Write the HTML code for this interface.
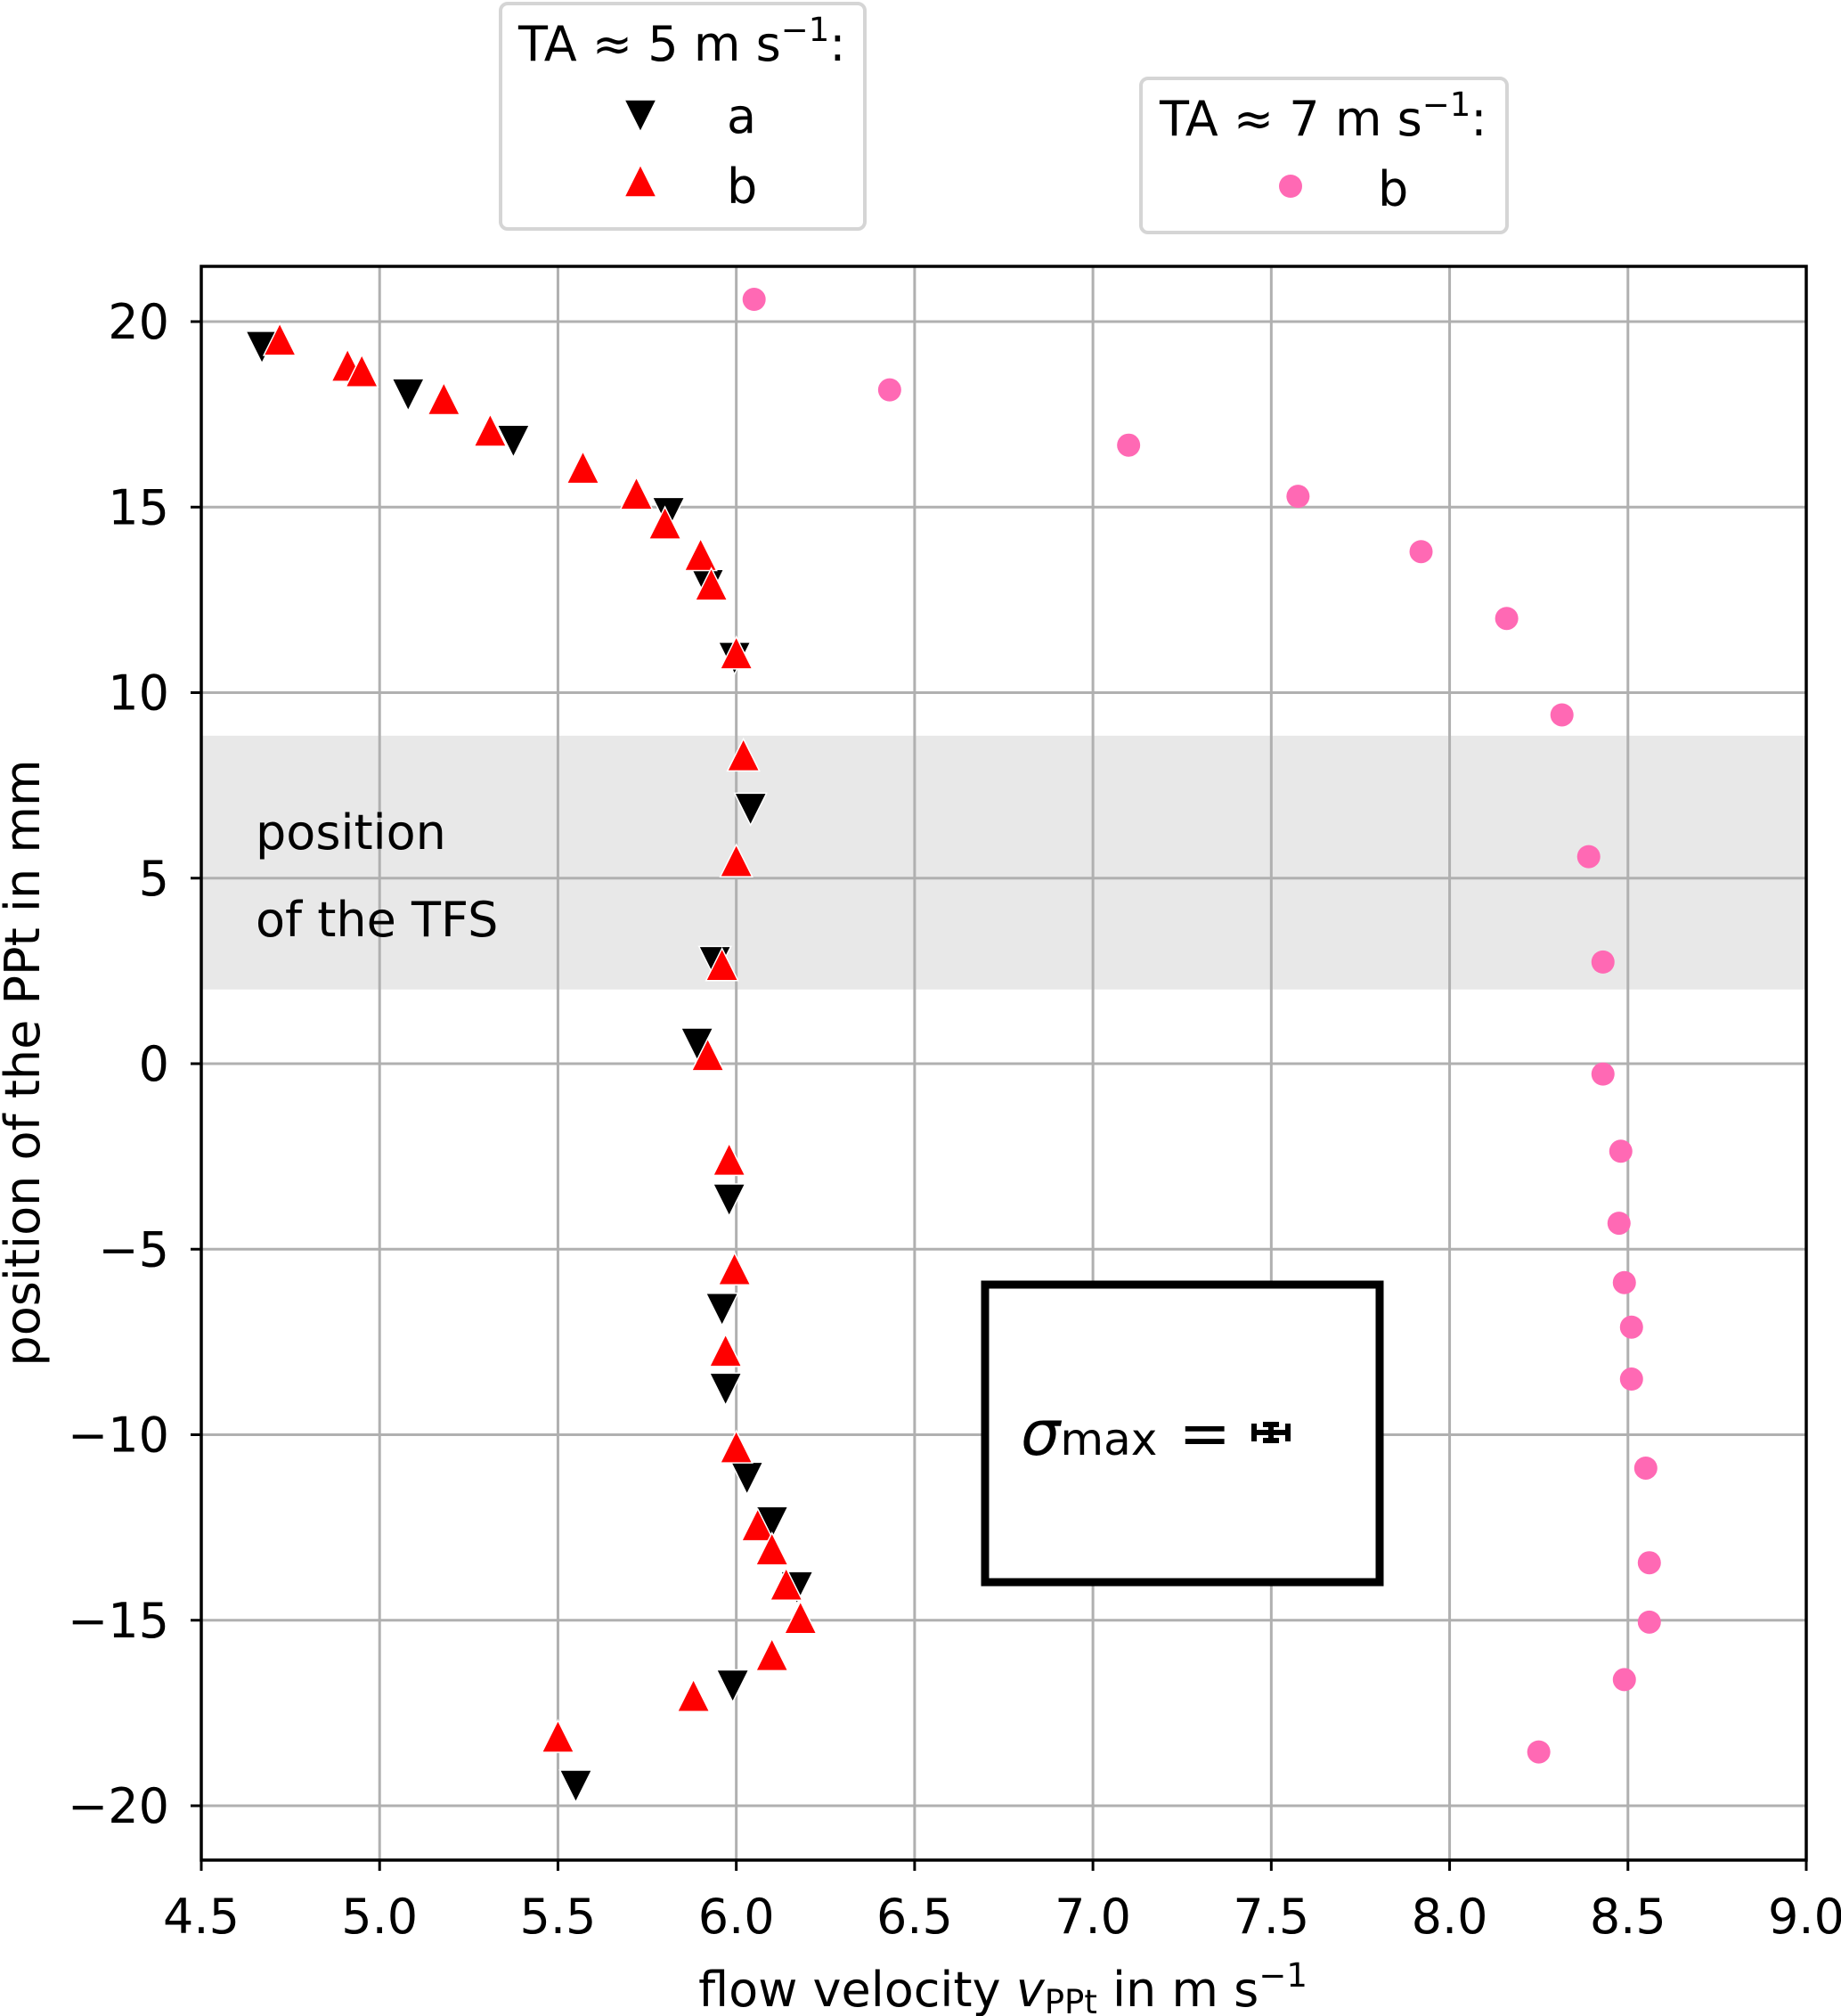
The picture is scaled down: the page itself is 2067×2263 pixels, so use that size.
<!DOCTYPE html>
<html><head><meta charset="utf-8"><style>
html,body{margin:0;padding:0;background:#fff}
svg{display:block}
text{font-family:"DejaVu Sans","Liberation Sans",sans-serif;fill:#000}
</style></head><body>
<svg id="chart" width="2067" height="2263" viewBox="0 0 2067 2263" xmlns="http://www.w3.org/2000/svg">
<g id="plot"></g>
</svg>
<script>
const xTicks=[4.5,5.0,5.5,6.0,6.5,7.0,7.5,8.0,8.5,9.0];
const yTicks=[20,15,10,5,0,-5,-10,-15,-20];
const aX=[4.67,5.08,5.375,5.81,5.92,5.995,6.04,5.94,5.89,5.98,5.96,5.97,6.03,6.10,6.17,5.99,5.55];
const aY=[19.38,18.1,16.85,14.9,12.96,11.0,6.93,2.8,0.6,-3.6,-6.55,-8.7,-11.1,-12.3,-14.05,-16.7,-19.4];
const bX=[4.72,4.91,4.95,5.18,5.31,5.57,5.72,5.80,5.90,5.93,6.0,6.02,6.0,5.96,5.92,5.98,5.995,5.97,6.0,6.06,6.10,6.14,6.18,6.10,5.88,5.50];
const bY=[19.45,18.75,18.6,17.85,17.0,16.0,15.3,14.5,13.65,12.85,11.0,8.25,5.4,2.6,0.17,-2.65,-5.6,-7.8,-10.4,-12.5,-13.15,-14.1,-15.0,-16.0,-17.1,-18.2];
const cX=[6.05,6.43,7.10,7.575,7.92,8.16,8.315,8.39,8.43,8.43,8.48,8.475,8.49,8.51,8.51,8.55,8.56,8.56,8.49,8.25];
const cY=[20.6,18.16,16.67,15.29,13.8,12.0,9.4,5.58,2.74,-0.28,-2.36,-4.3,-5.9,-7.1,-8.5,-10.9,-13.45,-15.05,-16.6,-18.55];
const band=[2.0,8.84];

const L=226,R=2028,T=299,B=2088;
const FS=54;
const sx=v=>L+(v-4.5)/4.5*(R-L);
const sy=v=>361+(20-v)/40*(2027-361);
const NS="http://www.w3.org/2000/svg";
const g=document.getElementById('plot');
function el(tag,attrs,parent){const e=document.createElementNS(NS,tag);for(const k in attrs)e.setAttribute(k,attrs[k]);(parent||g).appendChild(e);return e;}

const bandR=el('rect',{x:L,y:sy(band[1]),width:R-L,height:sy(band[0])-sy(band[1]),fill:'#e8e8e8'});



xTicks.forEach(v=>{
  const x=sx(v);
  const gl=el('line',{x1:x,x2:x,y1:T,y2:B,stroke:'#b0b0b0','stroke-width':3});
  
  
  el('line',{x1:x,x2:x,y1:B,y2:B+12,stroke:'#000','stroke-width':3});
  const t=el('text',{x:x,y:2170,'text-anchor':'middle','font-size':FS});
  t.textContent=v.toFixed(1);
  
  
});
yTicks.forEach(v=>{
  const y=sy(v);
  const gl=el('line',{x1:L,x2:R,y1:y,y2:y,stroke:'#b0b0b0','stroke-width':3});
  
  
  el('line',{x1:L-12,x2:L,y1:y,y2:y,stroke:'#000','stroke-width':3});
  const t=el('text',{x:190,y:y+19,'text-anchor':'end','font-size':FS});
  t.textContent=v<0?'\u2212'+(-v):String(v);
  
  
});

const p1=el('text',{x:287,y:953,'font-size':FS});p1.textContent='position';


const p2=el('text',{x:287,y:1051,'font-size':FS});p2.textContent='of the TFS';



const sb=el('rect',{x:1106,y:1442,width:443,height:334,fill:'#fff',stroke:'#000','stroke-width':9});


const st=el('text',{x:1146,y:1633,'font-size':70});
st.innerHTML='<tspan font-style="italic">σ</tspan><tspan font-size="50">max</tspan><tspan dx="24">=</tspan>';


const eb=el('path',{d:'M1406 1608H1448M1408 1598V1618M1446 1598V1618M1427 1599V1617M1418 1599H1436M1418 1617H1436',stroke:'#000','stroke-width':6,fill:'none'});



function down(x,y,c){return el('path',{d:`M${x-18} ${y-15}L${x+18} ${y-15}L${x} ${y+21}Z`,fill:c,stroke:'#fff','stroke-width':1.5});}
function up(x,y,c){return el('path',{d:`M${x-18} ${y+15}L${x+18} ${y+15}L${x} ${y-21}Z`,fill:c,stroke:'#fff','stroke-width':1.5});}
cX.forEach((v,i)=>{
  const c=el('ellipse',{cx:sx(v),cy:sy(cY[i]),rx:13,ry:13,fill:'#ff69b4'});
  
  
});
aX.forEach((v,i)=>{
  const m=down(sx(v),sy(aY[i]),'#000');
  
  
});
bX.forEach((v,i)=>{
  const m=up(sx(v),sy(bY[i]),'#ff0000');
  
  
});

const fr=el('rect',{x:L,y:T,width:R-L,height:B-T,fill:'none',stroke:'#000','stroke-width':3.5});



const xl=el('text',{x:1126,y:2252,'text-anchor':'middle','font-size':FS});
xl.innerHTML='flow velocity <tspan font-style="italic">v</tspan><tspan font-size="37" dy="8">PPt</tspan><tspan dy="-8"> in m s</tspan><tspan font-size="37" dy="-22">−1</tspan>';


const yl=el('text',{x:0,y:0,'text-anchor':'middle','font-size':FS,transform:'translate(44 1193) rotate(-90)'});
yl.textContent='position of the PPt in mm';



const lg1=el('rect',{x:562,y:4,width:409,height:253,rx:8,fill:'#fff',stroke:'#d5d5d5','stroke-width':4});


const lt1=el('text',{x:582,y:68,'font-size':FS});
lt1.innerHTML='TA ≈ 5 m s<tspan font-size="37" dy="-22">−1</tspan><tspan dy="22">:</tspan>';


const lma=down(719,127,'#000');


const la=el('text',{x:816,y:149,'font-size':FS});la.textContent='a';


const lmb=up(719,206,'#ff0000');


const lb=el('text',{x:816,y:228,'font-size':FS});lb.textContent='b';



const lg2=el('rect',{x:1281,y:88,width:411,height:173,rx:8,fill:'#fff',stroke:'#d5d5d5','stroke-width':4});


const lt2=el('text',{x:1302,y:152,'font-size':FS});
lt2.innerHTML='TA ≈ 7 m s<tspan font-size="37" dy="-22">−1</tspan><tspan dy="22">:</tspan>';


const lc=el('ellipse',{cx:1449,cy:209,rx:13,ry:13,fill:'#ff69b4'});


const lb2=el('text',{x:1547,y:231,'font-size':FS});lb2.textContent='b';


</script>
</body></html>
